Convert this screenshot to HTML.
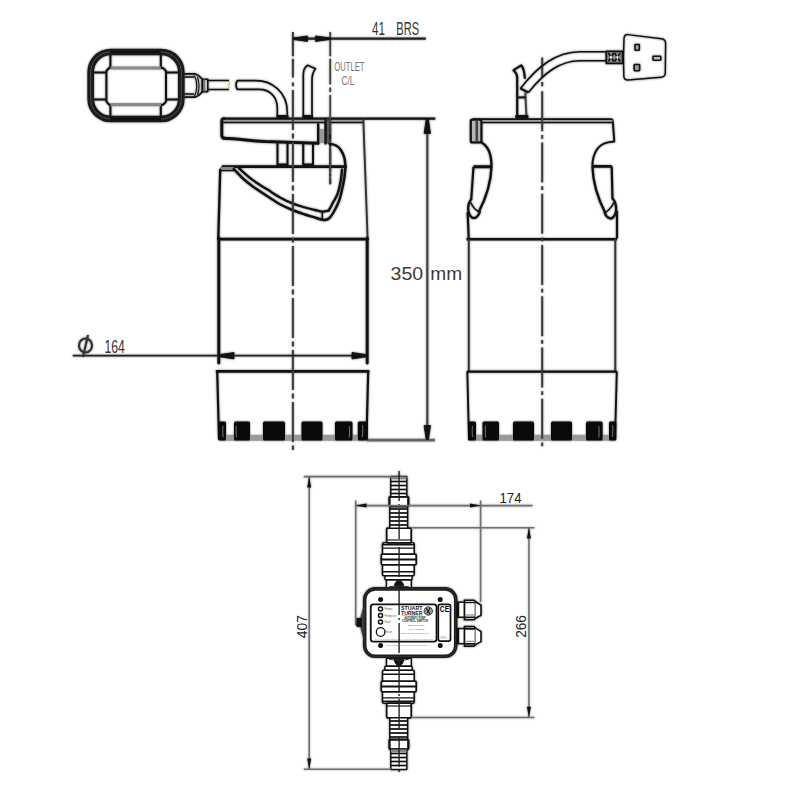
<!DOCTYPE html>
<html><head><meta charset="utf-8"><title>Pump drawing</title>
<style>
html,body{margin:0;padding:0;background:#fff;}
body{width:800px;height:800px;overflow:hidden;font-family:"Liberation Sans",sans-serif;}
svg{display:block;}
</style></head><body>
<svg width="800" height="800" viewBox="0 0 800 800">
<rect width="800" height="800" fill="#fff"/>
<g style="filter:blur(1px)" opacity="0.60">
<g  fill="none" stroke="#111" stroke-width="2.17" stroke-linejoin="round" stroke-linecap="round">
<rect x="222.5" y="119.4" width="141" height="2.4" fill="#9a9a9a" stroke="none"/>
<path d="M223.5 118.6 H434.5" stroke-width="2.10"/>
<path d="M222.5 122.4 H363" stroke-width="1.52"/>
<path d="M224 118.6 Q221.8 118.6 221.8 121 V135.5 Q221.8 138 224.5 138.2" stroke-width="2.90"/>
<path d="M223.5 138.2 C238 138.6 250 140.8 265 141.6 L318 143.2" stroke-width="3.04"/>
<rect x="318.2" y="129" width="7.2" height="14" fill="#9a9a9a" stroke="none"/>
<rect x="325.5" y="119.5" width="4.2" height="24" fill="#555" stroke="none"/>
<path d="M318.2 124.5 V143.5 M325.5 119 V143.5" stroke-width="2.32"/>
<path d="M363.3 119 L367.6 238" stroke="#333" stroke-width="1.89"/>
<path d="M277.5 143 V166" stroke-width="2.03"/>
<path d="M287.5 143 V166" stroke-width="2.03"/>
<path d="M303.2 143 V166" stroke-width="2.03"/>
<path d="M313.0 143 V166" stroke-width="2.03"/>
<rect x="277.5" y="163.5" width="10" height="3" fill="#111" stroke="none"/>
<rect x="303.2" y="163.5" width="9.8" height="3" fill="#111" stroke="none"/>
<path d="M223.2 166.6 H345" stroke-width="2.90"/>
<path d="M223.2 166.6 L220.2 170 L218.3 238" stroke-width="2.32"/>
<path d="M220.5 170.2 H234" stroke-width="2.32"/>
<path d="M222 168.5 H233" stroke="#888" stroke-width="2.90"/>
<path d="M329.50 143.50 C330.58 143.83 334.17 144.50 336.00 145.50 C337.83 146.50 339.12 147.50 340.50 149.50 C341.88 151.50 343.47 154.67 344.30 157.50 C345.13 160.33 345.30 165.00 345.50 166.50" stroke-width="2.46"/>
<path d="M233.75 169.00 C235.29 170.58 239.88 175.62 243.00 178.50 C246.12 181.38 248.42 183.28 252.50 186.25 C256.58 189.22 262.92 193.30 267.50 196.30 C272.08 199.30 275.75 201.93 280.00 204.25 C284.25 206.57 288.83 208.54 293.00 210.25 C297.17 211.96 301.33 213.29 305.00 214.50 C308.67 215.71 312.25 216.67 315.00 217.50 C317.75 218.33 319.83 219.08 321.50 219.50 C323.17 219.92 323.67 220.25 325.00 220.00 C326.33 219.75 328.00 219.42 329.50 218.00 C331.00 216.58 332.42 214.33 334.00 211.50 C335.58 208.67 337.75 204.25 339.00 201.00 C340.25 197.75 340.62 195.83 341.50 192.00 C342.38 188.17 343.63 182.25 344.30 178.00 C344.97 173.75 345.30 168.42 345.50 166.50" stroke-width="2.46"/>
<path d="M239.00 168.25 C241.25 170.19 247.75 176.34 252.50 179.90 C257.25 183.46 262.92 186.67 267.50 189.60 C272.08 192.53 275.75 195.15 280.00 197.50 C284.25 199.85 288.83 202.03 293.00 203.70 C297.17 205.37 301.33 206.45 305.00 207.50 C308.67 208.55 312.08 209.32 315.00 210.00 C317.92 210.68 320.23 211.50 322.50 211.60 C324.77 211.70 327.58 210.77 328.60 210.60" stroke-width="2.32"/>
<path d="M328.60 210.60 C329.00 209.92 330.27 207.85 331.00 206.50 C331.73 205.15 331.92 204.58 333.00 202.50 C334.08 200.42 336.25 197.42 337.50 194.00 C338.75 190.58 339.75 186.04 340.50 182.00 C341.25 177.96 341.75 171.79 342.00 169.75" stroke-width="2.32"/>
<path d="M322.3 211.8 L322.3 219" stroke-width="1.59"/>
<path d="M330.2 119 V183.5" stroke-width="2.03" stroke-dasharray="22 3 2 3"/>
<path d="M218.3 239.1 H367.6" stroke-width="2.90"/>
<path d="M218.8 238 V363 M367.2 238 V363" stroke-width="2.90"/>
<path d="M217 371.4 H368.3" stroke-width="2.61"/>
<path d="M217.2 371 L219 439 M368.2 371 L366.5 439" stroke-width="2.17"/>
</g>
<rect x="219" y="434.8" width="148" height="6" fill="#999"/>
<path d="M367 440 H435" stroke="#666" stroke-width="2.75"/>
<rect x="218.5" y="421.5" width="7.5" height="19" rx="1.5" fill="#0a0a0a"/>
<rect x="234.0" y="421.5" width="16.0" height="19" rx="1.5" fill="#0a0a0a"/>
<rect x="263.0" y="421.5" width="22.0" height="19" rx="1.5" fill="#0a0a0a"/>
<rect x="301.5" y="421.5" width="21.0" height="19" rx="1.5" fill="#0a0a0a"/>
<rect x="335.0" y="421.5" width="17.5" height="19" rx="1.5" fill="#0a0a0a"/>
<rect x="357.8" y="421.5" width="10.0" height="19" rx="1.5" fill="#0a0a0a"/>
<path d="M223 426 Q222.3 432 223.2 437 M236.3 426 Q235.8 432 236.5 437.5 M349.3 426 Q350 432 349.2 437.5 M362.5 425 Q363.2 431 362.3 437" fill="none" stroke="#666" stroke-width="1.16"/>
<path d="M292.90 31.90 V56.25 M292.90 58.75 V77.50 M292.90 82.50 V86.30 M292.90 90.00 V130.00 M292.90 133.50 V138.50 M292.90 142.00 V182.00 M292.90 185.50 V190.50 M292.90 194.00 V234.00 M292.90 237.50 V242.50 M292.90 246.00 V286.00 M292.90 289.50 V294.50 M292.90 298.00 V338.00 M292.90 341.50 V346.50 M292.90 350.00 V390.00 M292.90 393.50 V398.50 M292.90 402.00 V442.00 M292.90 445.50 V450.00" fill="none" stroke="#3a3a3a" stroke-width="1.96"/>
<path d="M330.20 31.90 V56.25 M330.20 58.75 V84.40 M330.20 87.50 V92.00 M330.20 95.00 V134.50 M330.20 139.00 V143.00 M330.20 147.00 V184.00" fill="none" stroke="#444" stroke-width="1.81"/>
<path d="M293 38.7 H425.8" fill="none" stroke="#222" stroke-width="2.32"/>
<path d="M293.20 39.50 L307.50 41.40 L307.50 36.00 L293.20 37.90 Z" fill="#111" stroke="#111" stroke-width="0.87" stroke-linejoin="round"/>
<path d="M330.20 37.90 L315.50 36.00 L315.50 41.40 L330.20 39.50 Z" fill="#111" stroke="#111" stroke-width="0.87" stroke-linejoin="round"/>
<g font-family="Liberation Sans, sans-serif" fill="#333">




</g>
<path d="M427.3 119 V440" fill="none" stroke="#444" stroke-width="2.17"/>
<path d="M426.20 119.40 L424.10 133.40 L430.50 133.40 L428.40 119.40 Z" fill="#111" stroke="#111" stroke-width="0.87" stroke-linejoin="round"/>
<path d="M428.40 439.60 L430.50 425.60 L424.10 425.60 L426.20 439.60 Z" fill="#111" stroke="#111" stroke-width="0.87" stroke-linejoin="round"/>


<path d="M72.7 355.7 H367" fill="none" stroke="#222" stroke-width="1.81"/>
<path d="M219.00 356.70 L234.00 358.90 L234.00 352.50 L219.00 354.70 Z" fill="#111" stroke="#111" stroke-width="0.87" stroke-linejoin="round"/>
<path d="M367.00 354.70 L352.00 352.50 L352.00 358.90 L367.00 356.70 Z" fill="#111" stroke="#111" stroke-width="0.87" stroke-linejoin="round"/>

<g fill="none" stroke="#333" stroke-width="2.17"><ellipse cx="85.5" cy="345.5" rx="6.5" ry="7"/><path d="M88 335 L83 357"/></g>
<g fill="none" stroke="#111" stroke-linejoin="round">
<rect x="90.7" y="52" width="90.6" height="67" rx="20" stroke="#1a1a1a" stroke-width="6.67"/>
<rect x="90.7" y="52" width="90.6" height="67" rx="20" stroke="#555" stroke-width="0.87"/>
<path d="M110 52 H161 M110 119 H161" stroke="#111" stroke-width="2.03"/>
<path d="M110.4 55 V68 M160.8 55 V68 M110.4 104.7 V116.5 M160.8 104.7 V116.5" stroke-width="2.03"/>
<path d="M94 72.6 H106.4 M94 99.6 H106.4 M165.5 72.6 H178 M165.5 99.6 H178" stroke-width="2.03"/>
<path d="M109 68 H163 L166 71 V101.7 L163 104.7 H109 L106.4 101.7 V71 Z" stroke-width="2.03"/>
<path d="M110.5 68 H161" stroke="#888" stroke-width="2.90"/>
<path d="M110.5 104.7 H161" stroke="#888" stroke-width="2.90"/>
<path d="M184.3 73.8 H195 C199 75 201 77.5 202.4 79.3 V91.7 C201 93.5 199 96 195 97.2 H184.3" stroke-width="1.67"/>
<path d="M184.3 77 H194 M184.3 94 H194" stroke-width="1.30"/>
<path d="M194.5 75.5 Q199 86 194.5 96.5 M197.5 77 Q200.5 86 197.5 95" stroke-width="1.16"/>
<rect x="202.4" y="79.2" width="5.4" height="12.4" stroke-width="1.59"/>
<path d="M204.5 79.5 V91.5" stroke="#777" stroke-width="1.45"/>
<path d="M207.8 80.6 H229 M207.8 89.4 H229" stroke-width="1.52"/>
<path d="M229.3 81.5 L229 88.5" stroke="#cc6" stroke-width="1.30"/>
<path d="M237 80.6 H256 C272 80.6 287.3 92 287.3 112 V117" stroke-width="1.59"/>
<path d="M237 89.4 H259 C270 89.4 277.3 97 277.3 108 V117" stroke-width="1.59"/>
<path d="M237 80.6 Q235 85 237 89.4" stroke-width="1.59"/>
<rect x="276.5" y="115" width="12" height="3.5" fill="#111" stroke="none"/>
<path d="M303.3 117 V75 C303.3 70 305 67 307.6 65.3 L315.5 68.8 C313 72 312 76 312 80 V117" stroke-width="1.67"/>
<rect x="302.5" y="115" width="10.5" height="3.5" fill="#111" stroke="none"/>
</g>
<g fill="none" stroke="#111" stroke-width="2.17" stroke-linejoin="round">
<path d="M473 119.2 H610.5 Q612.7 119.2 612.8 121.5 L614.3 141.5 L608 142.4 C598 144 592.4 154 592.4 166.4" stroke-width="1.96"/>
<rect x="472" y="120.2" width="140.5" height="2" fill="#aaa" stroke="none"/>
<path d="M472 122.5 H612.5" stroke-width="1.52"/>
<rect x="470.8" y="119.7" width="10.6" height="22.7" rx="1.5" fill="#b5b5b5" stroke-width="2.17"/>
<path d="M476.8 121 V141.5" stroke="#444" stroke-width="2.61"/>
<path d="M481.5 142.4 C488 146 491.5 154 491.5 166.4" stroke-width="2.32"/>
<path d="M473.5 166.7 H491.8 M592.4 166.4 H611.7" stroke-width="2.90"/>
<path d="M473.5 166.7 L471.2 200" stroke-width="2.17"/>
<path d="M491.5 166.4 C491 185 485 200 478.5 212.5" stroke-width="2.32"/>
<path d="M471.5 199 C467 204 467 214 472 217.5 C475 219.5 479 216 480 211" stroke-width="2.32"/>
<path d="M467.6 212 L468.7 238" stroke-width="2.17"/>
<path d="M611.7 166.4 L612.5 199.3" stroke-width="2.17"/>
<path d="M592.4 166.4 C593 185 599 201 605.8 214" stroke-width="2.32"/>
<path d="M612.5 198.5 C617 203 617.5 213 613 217.5 C610 220 605.5 217 604.5 212" stroke-width="2.32"/>
<path d="M617 210.7 V238.5" stroke-width="2.17"/>
<path d="M606.3 211.8 C609 210 612 206.5 613.8 202.5" stroke-width="1.59"/>
<path d="M478.5 211.5 C475.5 210 472.5 206.5 470.8 202.5" stroke-width="1.59"/>
<path d="M466.5 239.2 H617" stroke-width="2.46"/>
<path d="M468.8 238.6 V371.5 M615.3 238.6 V371.5" stroke="#333" stroke-width="1.89"/>
<path d="M467 371.6 H617" stroke-width="2.32"/>
<path d="M467.3 371.6 L469 440 M616.8 371.6 L615 440" stroke-width="1.89"/>
</g>
<rect x="469" y="434.8" width="146" height="6" fill="#999"/>
<rect x="468.0" y="421.5" width="8.0" height="19" rx="1.5" fill="#0a0a0a"/>
<rect x="482.5" y="421.5" width="16.5" height="19" rx="1.5" fill="#0a0a0a"/>
<rect x="513.0" y="421.5" width="21.0" height="19" rx="1.5" fill="#0a0a0a"/>
<rect x="551.0" y="421.5" width="21.0" height="19" rx="1.5" fill="#0a0a0a"/>
<rect x="586.0" y="421.5" width="16.6" height="19" rx="1.5" fill="#0a0a0a"/>
<rect x="609.0" y="421.5" width="7.4" height="19" rx="1.5" fill="#0a0a0a"/>
<path d="M472.5 426 Q471.8 432 472.7 437 M485.5 426 Q485 432 485.7 437.5 M598.8 426 Q599.5 432 598.7 437.5 M612.5 425 Q613.2 431 612.3 437" fill="none" stroke="#666" stroke-width="1.16"/>
<path d="M542.20 57.50 V77.50 M542.20 81.90 V86.25 M542.20 91.25 V131.25 M542.20 135.00 V138.75 M542.20 142.50 V182.50 M542.20 186.25 V190.00 M542.20 193.75 V233.75 M542.20 237.50 V241.25 M542.20 245.00 V285.00 M542.20 288.75 V292.50 M542.20 296.25 V336.25 M542.20 340.00 V343.75 M542.20 347.50 V387.50 M542.20 391.25 V395.00 M542.20 398.75 V438.75 M542.20 442.50 V446.25" fill="none" stroke="#3a3a3a" stroke-width="1.96"/>
<g fill="none" stroke="#111" stroke-width="2.03" stroke-linejoin="round">
<path d="M517.2 117 V77 C517 74 515.5 72 513.5 70.2 L521.3 65.3 C523.5 68 524.5 72 524.9 78.7" stroke-width="2.17"/>
<path d="M525.3 92.5 L526.5 117" stroke="#444" stroke-width="2.03"/>
<path d="M517.2 97.4 H526" stroke-width="2.03"/>
<rect x="515.2" y="115" width="13.3" height="3.5" rx="1" fill="#111" stroke="none"/>
<path d="M520.4 88.5 C538 66 556 52 580 51.8 H607" stroke-width="1.59"/>
<path d="M528.4 92.5 C545 72 560 61 580 60.8 H607" stroke-width="1.59"/>
<path d="M520.4 88.5 L528.4 92.5" stroke-width="2.17"/>
<rect x="606.3" y="51.3" width="16.3" height="12" fill="#8a8a8a" stroke-width="1.74"/>
<path d="M608.3 53 L613.8 61.5 M613.8 53 L608.3 61.5 M614.5 53 L620.3 61.5 M620.3 53 L614.5 61.5" fill="none" stroke="#111" stroke-width="1.59"/>
<path d="M609.6 57.3 L611 55.2 L612.4 57.3 L611 59.4 Z M615.9 57.3 L617.4 55.2 L618.9 57.3 L617.4 59.4 Z" fill="#eee" stroke="none"/>
<path d="M628 34.6 L661.5 38.8 Q665.6 39.4 665.6 43.5 L665.3 73 Q665.2 77 661 77.3 L628 80 Q624 80.2 623.8 76 Q623 57 624 38.5 Q624.3 34.2 628 34.6 Z" stroke-width="1.45"/>
<rect x="635" y="44.5" width="4.3" height="5.8" rx="0.6" fill="#aaa" stroke-width="1.59"/>
<rect x="634.2" y="64.5" width="5.4" height="6.2" rx="0.6" fill="#999" stroke-width="1.59"/>
<rect x="653" y="56.3" width="7.8" height="3.9" rx="0.6" fill="#bbb" stroke-width="1.59"/>
</g>
<g fill="none" stroke-linejoin="round">
<rect x="386.5" y="579.8" width="24.8" height="7.9" rx="0.8" fill="#fff" stroke="#111" stroke-width="1.49"/>
<rect x="384.9" y="575.6" width="27.2" height="4.2" rx="1.0" fill="#fff" stroke="#111" stroke-width="1.49"/>
<rect x="382.5" y="542.8" width="31.7" height="33.0" rx="1.5" fill="#fff" stroke="#111" stroke-width="1.61"/>
<path d="M382.5 571.7 H414.2" stroke="#111" stroke-width="1.38"/>
<path d="M382.5 548.1 H414.2" stroke="#111" stroke-width="1.38"/>
<path d="M382.5 544.7 H414.2" stroke="#111" stroke-width="1.38"/>
<rect x="381.3" y="554.2" width="34.9" height="10.6" rx="1.2" fill="#fff" stroke="#111" stroke-width="1.72"/>
<path d="M381.3 559.5 H416.2" stroke="#111" stroke-width="2.07"/>
<rect x="386.7" y="528.2" width="24.5" height="14.6" rx="1.0" fill="#fff" stroke="#111" stroke-width="1.72"/>
<path d="M386.7 540.0 H411.2" stroke="#111" stroke-width="1.15"/>
<rect x="389.8" y="506.4" width="17.8" height="21.8" rx="0.5" fill="#fff" stroke="#111" stroke-width="1.49"/>
<path d="M389.8 525.0 H407.6" stroke="#111" stroke-width="1.72"/>
<path d="M389.8 521.0 H407.6" stroke="#111" stroke-width="1.72"/>
<path d="M389.8 517.0 H407.6" stroke="#111" stroke-width="1.72"/>
<path d="M389.8 513.0 H407.6" stroke="#111" stroke-width="1.72"/>
<path d="M389.8 509.0 H407.6" stroke="#111" stroke-width="1.72"/>
<rect x="389.5" y="496.7" width="18.8" height="9.7" rx="1.5" fill="#fff" stroke="#111" stroke-width="2.30"/>
<rect x="390.8" y="476.5" width="16.0" height="20.2" rx="0.5" fill="#fff" stroke="#111" stroke-width="1.49"/>
<path d="M390.8 493.5 H406.8" stroke="#111" stroke-width="1.72"/>
<path d="M390.8 489.5 H406.8" stroke="#111" stroke-width="1.72"/>
<path d="M390.8 485.5 H406.8" stroke="#111" stroke-width="1.72"/>
<path d="M390.8 481.5 H406.8" stroke="#111" stroke-width="1.72"/>
<path d="M391.0 478.0 H406.5" stroke="#888" stroke-width="2.99"/>
<path d="M394.2 587.5 C394.2 583.5 396.2 580.4 399 580.4 C401.8 580.4 403.8 583.5 403.8 587.5 Z" fill="#111" stroke="#111" stroke-width="0.92"/>
<path d="M389 586.8 Q399 585.0 409 586.8" fill="none" stroke="#333" stroke-width="1.03"/>
<rect x="386.5" y="658.3" width="24.8" height="7.9" rx="0.8" fill="#fff" stroke="#111" stroke-width="1.49"/>
<rect x="384.9" y="666.2" width="27.2" height="4.2" rx="1.0" fill="#fff" stroke="#111" stroke-width="1.49"/>
<rect x="382.5" y="670.2" width="31.7" height="33.0" rx="1.5" fill="#fff" stroke="#111" stroke-width="1.61"/>
<path d="M382.5 674.3 H414.2" stroke="#111" stroke-width="1.38"/>
<path d="M382.5 697.9 H414.2" stroke="#111" stroke-width="1.38"/>
<path d="M382.5 701.3 H414.2" stroke="#111" stroke-width="1.38"/>
<rect x="381.3" y="681.2" width="34.9" height="10.6" rx="1.2" fill="#fff" stroke="#111" stroke-width="1.72"/>
<path d="M381.3 686.5 H416.2" stroke="#111" stroke-width="2.07"/>
<rect x="386.7" y="703.2" width="24.5" height="14.6" rx="1.0" fill="#fff" stroke="#111" stroke-width="1.72"/>
<path d="M386.7 706.0 H411.2" stroke="#111" stroke-width="1.15"/>
<rect x="389.8" y="717.8" width="17.8" height="21.8" rx="0.5" fill="#fff" stroke="#111" stroke-width="1.49"/>
<path d="M389.8 721.0 H407.6" stroke="#111" stroke-width="1.72"/>
<path d="M389.8 725.0 H407.6" stroke="#111" stroke-width="1.72"/>
<path d="M389.8 729.0 H407.6" stroke="#111" stroke-width="1.72"/>
<path d="M389.8 733.0 H407.6" stroke="#111" stroke-width="1.72"/>
<path d="M389.8 737.0 H407.6" stroke="#111" stroke-width="1.72"/>
<rect x="389.5" y="739.6" width="18.8" height="9.7" rx="1.5" fill="#fff" stroke="#111" stroke-width="2.30"/>
<rect x="390.8" y="749.3" width="16.0" height="20.2" rx="0.5" fill="#fff" stroke="#111" stroke-width="1.49"/>
<path d="M391.0 750.8 H406.5" stroke="#888" stroke-width="2.76"/>
<path d="M390.8 753.5 H406.8" stroke="#111" stroke-width="1.72"/>
<path d="M390.8 757.5 H406.8" stroke="#111" stroke-width="1.72"/>
<path d="M390.8 761.5 H406.8" stroke="#111" stroke-width="1.72"/>
<path d="M390.8 765.5 H406.8" stroke="#111" stroke-width="1.72"/>
<path d="M394.2 658.5 C394.2 662.5 396.2 665.6 399 665.6 C401.8 665.6 403.8 662.5 403.8 658.5 Z" fill="#111" stroke="#111" stroke-width="0.92"/>
<path d="M389 659.2 Q399 661.0 409 659.2" fill="none" stroke="#333" stroke-width="1.03"/>
</g>
<g fill="none" stroke="#111" stroke-linejoin="round">
<rect x="364.7" y="588.9" width="91" height="67.4" rx="10.5" fill="#fff" stroke="#1c1c1c" stroke-width="3.56"/>
<rect x="364.7" y="588.9" width="91" height="67.4" rx="10.5" stroke="#444" stroke-width="0.57"/>
<rect x="370.75" y="604.4" width="65.8" height="37.2" rx="2.6" stroke-width="1.84"/>
<rect x="438.3" y="604.3" width="12.2" height="36.8" rx="2" stroke-width="1.72"/>
<circle cx="380.5" cy="609.0" r="2.05" stroke-width="1.44"/>
<circle cx="380.5" cy="615.5" r="2.05" stroke-width="1.44"/>
<circle cx="380.5" cy="622.0" r="2.05" stroke-width="1.44"/>
<circle cx="380.6" cy="632" r="4.3" stroke-width="1.26"/>
</g>
<circle cx="380.6" cy="599.6" r="2.5" fill="#111"/>
<circle cx="380.6" cy="645.6" r="2.5" fill="#111"/>
<circle cx="440.2" cy="599.6" r="2.5" fill="#111"/>
<circle cx="440.2" cy="645.6" r="2.5" fill="#111"/>
<path d="M363.5 606 L360.6 616 L360.6 629 L363.5 640 Z" fill="#444"/>
<path d="M362 617.7 L357 617.9 Q355.6 618 355.6 619.5 L355.6 624.5 Q355.8 626.2 357.5 626.9 L362 627.2 Z" fill="#111"/>
<g font-family="Liberation Sans, sans-serif" fill="#555">
















</g>
<circle cx="428.3" cy="611" r="4.2" fill="#999" stroke="#333" stroke-width="0.92"/>
<path d="M426 608 L430 614 M427 613 L430 608" stroke="#111" stroke-width="1.03"/>
<rect x="457.5" y="602.2" width="7" height="15" fill="#fff" stroke="#111" stroke-width="1.49"/>
<path d="M458 602.2 V617.2" stroke="#111" stroke-width="2.53"/>
<path d="M464.5 600.2 H474 L475.5 601.7 V618.2 L474 619.7 H464.5 Z" fill="#fff" stroke="#111" stroke-width="1.61"/>
<path d="M465 602.5 H475 M465 617.4 H475" stroke="#111" stroke-width="1.72"/>
<path d="M465.5 615.0 H475" stroke="#999" stroke-width="1.38"/>
<path d="M475.5 601.7 L481 605.2 V615.2 L475.5 618.2" fill="#fff" stroke="#111" stroke-width="1.61"/>
<rect x="457.5" y="628.6" width="7" height="15" fill="#fff" stroke="#111" stroke-width="1.49"/>
<path d="M458 628.6 V643.6" stroke="#111" stroke-width="2.53"/>
<path d="M464.5 626.6 H474 L475.5 628.1 V644.6 L474 646.1 H464.5 Z" fill="#fff" stroke="#111" stroke-width="1.61"/>
<path d="M465 628.9 H475 M465 643.8 H475" stroke="#111" stroke-width="1.72"/>
<path d="M465.5 641.4 H475" stroke="#999" stroke-width="1.38"/>
<path d="M475.5 628.1 L481 631.6 V641.6 L475.5 644.6" fill="#fff" stroke="#111" stroke-width="1.61"/>
<path d="M399.1 471 V775" fill="none" stroke="#222" stroke-width="1.38" stroke-dasharray="30 3 2 3"/>
<g fill="none" stroke="#707070" stroke-width="1.55">
<path d="M303.7 476.6 H391 M303.7 769.3 H391"/>
<path d="M309.2 476.6 V769.3"/>
<path d="M355.7 500.5 V624.5 M480.6 500.5 V602"/>
<path d="M355.5 505.6 H532.5"/>
<path d="M411 527.8 H534.5 M411 717.5 H534.5"/>
<path d="M528.9 527.8 V717.5"/>
</g>
<g fill="#111">
<path d="M309.2 476.6 L307.2 487.5 L311.2 487.5 Z M309.2 769.3 L307.2 758.5 L311.2 758.5 Z"/>
<path d="M355.5 505.6 L366.5 503.6 L366.5 507.6 Z M480.6 505.6 L470 503.6 L470 507.6 Z"/>
<path d="M528.9 527.8 L526.9 538.5 L530.9 538.5 Z M528.9 717.5 L526.9 706.8 L530.9 706.8 Z"/>
</g>
<g font-family="Liberation Sans, sans-serif" font-size="14.3" fill="#222">



</g>
</g>
<g id="art">
<g id="leftpump" fill="none" stroke="#111" stroke-width="2.17" stroke-linejoin="round" stroke-linecap="round">
<rect x="222.5" y="119.4" width="141" height="2.4" fill="#9a9a9a" stroke="none"/>
<path d="M223.5 118.6 H434.5" stroke-width="2.10"/>
<path d="M222.5 122.4 H363" stroke-width="1.52"/>
<path d="M224 118.6 Q221.8 118.6 221.8 121 V135.5 Q221.8 138 224.5 138.2" stroke-width="2.90"/>
<path d="M223.5 138.2 C238 138.6 250 140.8 265 141.6 L318 143.2" stroke-width="3.04"/>
<rect x="318.2" y="129" width="7.2" height="14" fill="#9a9a9a" stroke="none"/>
<rect x="325.5" y="119.5" width="4.2" height="24" fill="#555" stroke="none"/>
<path d="M318.2 124.5 V143.5 M325.5 119 V143.5" stroke-width="2.32"/>
<path d="M363.3 119 L367.6 238" stroke="#333" stroke-width="1.89"/>
<path d="M277.5 143 V166" stroke-width="2.03"/>
<path d="M287.5 143 V166" stroke-width="2.03"/>
<path d="M303.2 143 V166" stroke-width="2.03"/>
<path d="M313.0 143 V166" stroke-width="2.03"/>
<rect x="277.5" y="163.5" width="10" height="3" fill="#111" stroke="none"/>
<rect x="303.2" y="163.5" width="9.8" height="3" fill="#111" stroke="none"/>
<path d="M223.2 166.6 H345" stroke-width="2.90"/>
<path d="M223.2 166.6 L220.2 170 L218.3 238" stroke-width="2.32"/>
<path d="M220.5 170.2 H234" stroke-width="2.32"/>
<path d="M222 168.5 H233" stroke="#888" stroke-width="2.90"/>
<path d="M329.50 143.50 C330.58 143.83 334.17 144.50 336.00 145.50 C337.83 146.50 339.12 147.50 340.50 149.50 C341.88 151.50 343.47 154.67 344.30 157.50 C345.13 160.33 345.30 165.00 345.50 166.50" stroke-width="2.46"/>
<path d="M233.75 169.00 C235.29 170.58 239.88 175.62 243.00 178.50 C246.12 181.38 248.42 183.28 252.50 186.25 C256.58 189.22 262.92 193.30 267.50 196.30 C272.08 199.30 275.75 201.93 280.00 204.25 C284.25 206.57 288.83 208.54 293.00 210.25 C297.17 211.96 301.33 213.29 305.00 214.50 C308.67 215.71 312.25 216.67 315.00 217.50 C317.75 218.33 319.83 219.08 321.50 219.50 C323.17 219.92 323.67 220.25 325.00 220.00 C326.33 219.75 328.00 219.42 329.50 218.00 C331.00 216.58 332.42 214.33 334.00 211.50 C335.58 208.67 337.75 204.25 339.00 201.00 C340.25 197.75 340.62 195.83 341.50 192.00 C342.38 188.17 343.63 182.25 344.30 178.00 C344.97 173.75 345.30 168.42 345.50 166.50" stroke-width="2.46"/>
<path d="M239.00 168.25 C241.25 170.19 247.75 176.34 252.50 179.90 C257.25 183.46 262.92 186.67 267.50 189.60 C272.08 192.53 275.75 195.15 280.00 197.50 C284.25 199.85 288.83 202.03 293.00 203.70 C297.17 205.37 301.33 206.45 305.00 207.50 C308.67 208.55 312.08 209.32 315.00 210.00 C317.92 210.68 320.23 211.50 322.50 211.60 C324.77 211.70 327.58 210.77 328.60 210.60" stroke-width="2.32"/>
<path d="M328.60 210.60 C329.00 209.92 330.27 207.85 331.00 206.50 C331.73 205.15 331.92 204.58 333.00 202.50 C334.08 200.42 336.25 197.42 337.50 194.00 C338.75 190.58 339.75 186.04 340.50 182.00 C341.25 177.96 341.75 171.79 342.00 169.75" stroke-width="2.32"/>
<path d="M322.3 211.8 L322.3 219" stroke-width="1.59"/>
<path d="M330.2 119 V183.5" stroke-width="2.03" stroke-dasharray="22 3 2 3"/>
<path d="M218.3 239.1 H367.6" stroke-width="2.90"/>
<path d="M218.8 238 V363 M367.2 238 V363" stroke-width="2.90"/>
<path d="M217 371.4 H368.3" stroke-width="2.61"/>
<path d="M217.2 371 L219 439 M368.2 371 L366.5 439" stroke-width="2.17"/>
</g>
<rect x="219" y="434.8" width="148" height="6" fill="#999"/>
<path d="M367 440 H435" stroke="#666" stroke-width="2.75"/>
<rect x="218.5" y="421.5" width="7.5" height="19" rx="1.5" fill="#0a0a0a"/>
<rect x="234.0" y="421.5" width="16.0" height="19" rx="1.5" fill="#0a0a0a"/>
<rect x="263.0" y="421.5" width="22.0" height="19" rx="1.5" fill="#0a0a0a"/>
<rect x="301.5" y="421.5" width="21.0" height="19" rx="1.5" fill="#0a0a0a"/>
<rect x="335.0" y="421.5" width="17.5" height="19" rx="1.5" fill="#0a0a0a"/>
<rect x="357.8" y="421.5" width="10.0" height="19" rx="1.5" fill="#0a0a0a"/>
<path d="M223 426 Q222.3 432 223.2 437 M236.3 426 Q235.8 432 236.5 437.5 M349.3 426 Q350 432 349.2 437.5 M362.5 425 Q363.2 431 362.3 437" fill="none" stroke="#666" stroke-width="1.16"/>
<path d="M292.90 31.90 V56.25 M292.90 58.75 V77.50 M292.90 82.50 V86.30 M292.90 90.00 V130.00 M292.90 133.50 V138.50 M292.90 142.00 V182.00 M292.90 185.50 V190.50 M292.90 194.00 V234.00 M292.90 237.50 V242.50 M292.90 246.00 V286.00 M292.90 289.50 V294.50 M292.90 298.00 V338.00 M292.90 341.50 V346.50 M292.90 350.00 V390.00 M292.90 393.50 V398.50 M292.90 402.00 V442.00 M292.90 445.50 V450.00" fill="none" stroke="#3a3a3a" stroke-width="1.96"/>
<path d="M330.20 31.90 V56.25 M330.20 58.75 V84.40 M330.20 87.50 V92.00 M330.20 95.00 V134.50 M330.20 139.00 V143.00 M330.20 147.00 V184.00" fill="none" stroke="#444" stroke-width="1.81"/>
<path d="M293 38.7 H425.8" fill="none" stroke="#222" stroke-width="2.32"/>
<path d="M293.20 39.50 L307.50 41.40 L307.50 36.00 L293.20 37.90 Z" fill="#111" stroke="#111" stroke-width="0.87" stroke-linejoin="round"/>
<path d="M330.20 37.90 L315.50 36.00 L315.50 41.40 L330.20 39.50 Z" fill="#111" stroke="#111" stroke-width="0.87" stroke-linejoin="round"/>
<g font-family="Liberation Sans, sans-serif" fill="#333">
<text x="372" y="34.9" font-size="19.2" textLength="12.9" lengthAdjust="spacingAndGlyphs">41</text>
<text x="396.3" y="34.9" font-size="19.2" textLength="22.8" lengthAdjust="spacingAndGlyphs">BRS</text>
<text x="334.2" y="71" font-size="12.4" fill="#777" textLength="30.3" lengthAdjust="spacingAndGlyphs">OUTLET</text>
<text x="341.5" y="85" font-size="12.4" fill="#777" textLength="13" lengthAdjust="spacingAndGlyphs">C/L</text>
</g>
<path d="M427.3 119 V440" fill="none" stroke="#444" stroke-width="2.17"/>
<path d="M426.20 119.40 L424.10 133.40 L430.50 133.40 L428.40 119.40 Z" fill="#111" stroke="#111" stroke-width="0.87" stroke-linejoin="round"/>
<path d="M428.40 439.60 L430.50 425.60 L424.10 425.60 L426.20 439.60 Z" fill="#111" stroke="#111" stroke-width="0.87" stroke-linejoin="round"/>
<text x="390.6" y="280.2" font-family="Liberation Sans, sans-serif" font-size="18.4" fill="#3a3a3a" textLength="32.6" lengthAdjust="spacingAndGlyphs">350</text>
<text x="430.3" y="280.2" font-family="Liberation Sans, sans-serif" font-size="18.4" fill="#3a3a3a" textLength="31.8" lengthAdjust="spacingAndGlyphs">mm</text>
<path d="M72.7 355.7 H367" fill="none" stroke="#222" stroke-width="1.81"/>
<path d="M219.00 356.70 L234.00 358.90 L234.00 352.50 L219.00 354.70 Z" fill="#111" stroke="#111" stroke-width="0.87" stroke-linejoin="round"/>
<path d="M367.00 354.70 L352.00 352.50 L352.00 358.90 L367.00 356.70 Z" fill="#111" stroke="#111" stroke-width="0.87" stroke-linejoin="round"/>
<text x="104.5" y="353" font-family="Liberation Sans, sans-serif" font-size="19.2" fill="#333" textLength="20.3" lengthAdjust="spacingAndGlyphs">164</text>
<g fill="none" stroke="#333" stroke-width="2.17"><ellipse cx="85.5" cy="345.5" rx="6.5" ry="7"/><path d="M88 335 L83 357"/></g>
<g fill="none" stroke="#111" stroke-linejoin="round">
<rect x="90.7" y="52" width="90.6" height="67" rx="20" stroke="#1a1a1a" stroke-width="6.67"/>
<rect x="90.7" y="52" width="90.6" height="67" rx="20" stroke="#555" stroke-width="0.87"/>
<path d="M110 52 H161 M110 119 H161" stroke="#111" stroke-width="2.03"/>
<path d="M110.4 55 V68 M160.8 55 V68 M110.4 104.7 V116.5 M160.8 104.7 V116.5" stroke-width="2.03"/>
<path d="M94 72.6 H106.4 M94 99.6 H106.4 M165.5 72.6 H178 M165.5 99.6 H178" stroke-width="2.03"/>
<path d="M109 68 H163 L166 71 V101.7 L163 104.7 H109 L106.4 101.7 V71 Z" stroke-width="2.03"/>
<path d="M110.5 68 H161" stroke="#888" stroke-width="2.90"/>
<path d="M110.5 104.7 H161" stroke="#888" stroke-width="2.90"/>
<path d="M184.3 73.8 H195 C199 75 201 77.5 202.4 79.3 V91.7 C201 93.5 199 96 195 97.2 H184.3" stroke-width="1.67"/>
<path d="M184.3 77 H194 M184.3 94 H194" stroke-width="1.30"/>
<path d="M194.5 75.5 Q199 86 194.5 96.5 M197.5 77 Q200.5 86 197.5 95" stroke-width="1.16"/>
<rect x="202.4" y="79.2" width="5.4" height="12.4" stroke-width="1.59"/>
<path d="M204.5 79.5 V91.5" stroke="#777" stroke-width="1.45"/>
<path d="M207.8 80.6 H229 M207.8 89.4 H229" stroke-width="1.52"/>
<path d="M229.3 81.5 L229 88.5" stroke="#cc6" stroke-width="1.30"/>
<path d="M237 80.6 H256 C272 80.6 287.3 92 287.3 112 V117" stroke-width="1.59"/>
<path d="M237 89.4 H259 C270 89.4 277.3 97 277.3 108 V117" stroke-width="1.59"/>
<path d="M237 80.6 Q235 85 237 89.4" stroke-width="1.59"/>
<rect x="276.5" y="115" width="12" height="3.5" fill="#111" stroke="none"/>
<path d="M303.3 117 V75 C303.3 70 305 67 307.6 65.3 L315.5 68.8 C313 72 312 76 312 80 V117" stroke-width="1.67"/>
<rect x="302.5" y="115" width="10.5" height="3.5" fill="#111" stroke="none"/>
</g>
<g fill="none" stroke="#111" stroke-width="2.17" stroke-linejoin="round">
<path d="M473 119.2 H610.5 Q612.7 119.2 612.8 121.5 L614.3 141.5 L608 142.4 C598 144 592.4 154 592.4 166.4" stroke-width="1.96"/>
<rect x="472" y="120.2" width="140.5" height="2" fill="#aaa" stroke="none"/>
<path d="M472 122.5 H612.5" stroke-width="1.52"/>
<rect x="470.8" y="119.7" width="10.6" height="22.7" rx="1.5" fill="#b5b5b5" stroke-width="2.17"/>
<path d="M476.8 121 V141.5" stroke="#444" stroke-width="2.61"/>
<path d="M481.5 142.4 C488 146 491.5 154 491.5 166.4" stroke-width="2.32"/>
<path d="M473.5 166.7 H491.8 M592.4 166.4 H611.7" stroke-width="2.90"/>
<path d="M473.5 166.7 L471.2 200" stroke-width="2.17"/>
<path d="M491.5 166.4 C491 185 485 200 478.5 212.5" stroke-width="2.32"/>
<path d="M471.5 199 C467 204 467 214 472 217.5 C475 219.5 479 216 480 211" stroke-width="2.32"/>
<path d="M467.6 212 L468.7 238" stroke-width="2.17"/>
<path d="M611.7 166.4 L612.5 199.3" stroke-width="2.17"/>
<path d="M592.4 166.4 C593 185 599 201 605.8 214" stroke-width="2.32"/>
<path d="M612.5 198.5 C617 203 617.5 213 613 217.5 C610 220 605.5 217 604.5 212" stroke-width="2.32"/>
<path d="M617 210.7 V238.5" stroke-width="2.17"/>
<path d="M606.3 211.8 C609 210 612 206.5 613.8 202.5" stroke-width="1.59"/>
<path d="M478.5 211.5 C475.5 210 472.5 206.5 470.8 202.5" stroke-width="1.59"/>
<path d="M466.5 239.2 H617" stroke-width="2.46"/>
<path d="M468.8 238.6 V371.5 M615.3 238.6 V371.5" stroke="#333" stroke-width="1.89"/>
<path d="M467 371.6 H617" stroke-width="2.32"/>
<path d="M467.3 371.6 L469 440 M616.8 371.6 L615 440" stroke-width="1.89"/>
</g>
<rect x="469" y="434.8" width="146" height="6" fill="#999"/>
<rect x="468.0" y="421.5" width="8.0" height="19" rx="1.5" fill="#0a0a0a"/>
<rect x="482.5" y="421.5" width="16.5" height="19" rx="1.5" fill="#0a0a0a"/>
<rect x="513.0" y="421.5" width="21.0" height="19" rx="1.5" fill="#0a0a0a"/>
<rect x="551.0" y="421.5" width="21.0" height="19" rx="1.5" fill="#0a0a0a"/>
<rect x="586.0" y="421.5" width="16.6" height="19" rx="1.5" fill="#0a0a0a"/>
<rect x="609.0" y="421.5" width="7.4" height="19" rx="1.5" fill="#0a0a0a"/>
<path d="M472.5 426 Q471.8 432 472.7 437 M485.5 426 Q485 432 485.7 437.5 M598.8 426 Q599.5 432 598.7 437.5 M612.5 425 Q613.2 431 612.3 437" fill="none" stroke="#666" stroke-width="1.16"/>
<path d="M542.20 57.50 V77.50 M542.20 81.90 V86.25 M542.20 91.25 V131.25 M542.20 135.00 V138.75 M542.20 142.50 V182.50 M542.20 186.25 V190.00 M542.20 193.75 V233.75 M542.20 237.50 V241.25 M542.20 245.00 V285.00 M542.20 288.75 V292.50 M542.20 296.25 V336.25 M542.20 340.00 V343.75 M542.20 347.50 V387.50 M542.20 391.25 V395.00 M542.20 398.75 V438.75 M542.20 442.50 V446.25" fill="none" stroke="#3a3a3a" stroke-width="1.96"/>
<g fill="none" stroke="#111" stroke-width="2.03" stroke-linejoin="round">
<path d="M517.2 117 V77 C517 74 515.5 72 513.5 70.2 L521.3 65.3 C523.5 68 524.5 72 524.9 78.7" stroke-width="2.17"/>
<path d="M525.3 92.5 L526.5 117" stroke="#444" stroke-width="2.03"/>
<path d="M517.2 97.4 H526" stroke-width="2.03"/>
<rect x="515.2" y="115" width="13.3" height="3.5" rx="1" fill="#111" stroke="none"/>
<path d="M520.4 88.5 C538 66 556 52 580 51.8 H607" stroke-width="1.59"/>
<path d="M528.4 92.5 C545 72 560 61 580 60.8 H607" stroke-width="1.59"/>
<path d="M520.4 88.5 L528.4 92.5" stroke-width="2.17"/>
<rect x="606.3" y="51.3" width="16.3" height="12" fill="#8a8a8a" stroke-width="1.74"/>
<path d="M608.3 53 L613.8 61.5 M613.8 53 L608.3 61.5 M614.5 53 L620.3 61.5 M620.3 53 L614.5 61.5" fill="none" stroke="#111" stroke-width="1.59"/>
<path d="M609.6 57.3 L611 55.2 L612.4 57.3 L611 59.4 Z M615.9 57.3 L617.4 55.2 L618.9 57.3 L617.4 59.4 Z" fill="#eee" stroke="none"/>
<path d="M628 34.6 L661.5 38.8 Q665.6 39.4 665.6 43.5 L665.3 73 Q665.2 77 661 77.3 L628 80 Q624 80.2 623.8 76 Q623 57 624 38.5 Q624.3 34.2 628 34.6 Z" stroke-width="1.45"/>
<rect x="635" y="44.5" width="4.3" height="5.8" rx="0.6" fill="#aaa" stroke-width="1.59"/>
<rect x="634.2" y="64.5" width="5.4" height="6.2" rx="0.6" fill="#999" stroke-width="1.59"/>
<rect x="653" y="56.3" width="7.8" height="3.9" rx="0.6" fill="#bbb" stroke-width="1.59"/>
</g>
<g fill="none" stroke-linejoin="round">
<rect x="386.5" y="579.8" width="24.8" height="7.9" rx="0.8" fill="#fff" stroke="#111" stroke-width="1.49"/>
<rect x="384.9" y="575.6" width="27.2" height="4.2" rx="1.0" fill="#fff" stroke="#111" stroke-width="1.49"/>
<rect x="382.5" y="542.8" width="31.7" height="33.0" rx="1.5" fill="#fff" stroke="#111" stroke-width="1.61"/>
<path d="M382.5 571.7 H414.2" stroke="#111" stroke-width="1.38"/>
<path d="M382.5 548.1 H414.2" stroke="#111" stroke-width="1.38"/>
<path d="M382.5 544.7 H414.2" stroke="#111" stroke-width="1.38"/>
<rect x="381.3" y="554.2" width="34.9" height="10.6" rx="1.2" fill="#fff" stroke="#111" stroke-width="1.72"/>
<path d="M381.3 559.5 H416.2" stroke="#111" stroke-width="2.07"/>
<rect x="386.7" y="528.2" width="24.5" height="14.6" rx="1.0" fill="#fff" stroke="#111" stroke-width="1.72"/>
<path d="M386.7 540.0 H411.2" stroke="#111" stroke-width="1.15"/>
<rect x="389.8" y="506.4" width="17.8" height="21.8" rx="0.5" fill="#fff" stroke="#111" stroke-width="1.49"/>
<path d="M389.8 525.0 H407.6" stroke="#111" stroke-width="1.72"/>
<path d="M389.8 521.0 H407.6" stroke="#111" stroke-width="1.72"/>
<path d="M389.8 517.0 H407.6" stroke="#111" stroke-width="1.72"/>
<path d="M389.8 513.0 H407.6" stroke="#111" stroke-width="1.72"/>
<path d="M389.8 509.0 H407.6" stroke="#111" stroke-width="1.72"/>
<rect x="389.5" y="496.7" width="18.8" height="9.7" rx="1.5" fill="#fff" stroke="#111" stroke-width="2.30"/>
<rect x="390.8" y="476.5" width="16.0" height="20.2" rx="0.5" fill="#fff" stroke="#111" stroke-width="1.49"/>
<path d="M390.8 493.5 H406.8" stroke="#111" stroke-width="1.72"/>
<path d="M390.8 489.5 H406.8" stroke="#111" stroke-width="1.72"/>
<path d="M390.8 485.5 H406.8" stroke="#111" stroke-width="1.72"/>
<path d="M390.8 481.5 H406.8" stroke="#111" stroke-width="1.72"/>
<path d="M391.0 478.0 H406.5" stroke="#888" stroke-width="2.99"/>
<path d="M394.2 587.5 C394.2 583.5 396.2 580.4 399 580.4 C401.8 580.4 403.8 583.5 403.8 587.5 Z" fill="#111" stroke="#111" stroke-width="0.92"/>
<path d="M389 586.8 Q399 585.0 409 586.8" fill="none" stroke="#333" stroke-width="1.03"/>
<rect x="386.5" y="658.3" width="24.8" height="7.9" rx="0.8" fill="#fff" stroke="#111" stroke-width="1.49"/>
<rect x="384.9" y="666.2" width="27.2" height="4.2" rx="1.0" fill="#fff" stroke="#111" stroke-width="1.49"/>
<rect x="382.5" y="670.2" width="31.7" height="33.0" rx="1.5" fill="#fff" stroke="#111" stroke-width="1.61"/>
<path d="M382.5 674.3 H414.2" stroke="#111" stroke-width="1.38"/>
<path d="M382.5 697.9 H414.2" stroke="#111" stroke-width="1.38"/>
<path d="M382.5 701.3 H414.2" stroke="#111" stroke-width="1.38"/>
<rect x="381.3" y="681.2" width="34.9" height="10.6" rx="1.2" fill="#fff" stroke="#111" stroke-width="1.72"/>
<path d="M381.3 686.5 H416.2" stroke="#111" stroke-width="2.07"/>
<rect x="386.7" y="703.2" width="24.5" height="14.6" rx="1.0" fill="#fff" stroke="#111" stroke-width="1.72"/>
<path d="M386.7 706.0 H411.2" stroke="#111" stroke-width="1.15"/>
<rect x="389.8" y="717.8" width="17.8" height="21.8" rx="0.5" fill="#fff" stroke="#111" stroke-width="1.49"/>
<path d="M389.8 721.0 H407.6" stroke="#111" stroke-width="1.72"/>
<path d="M389.8 725.0 H407.6" stroke="#111" stroke-width="1.72"/>
<path d="M389.8 729.0 H407.6" stroke="#111" stroke-width="1.72"/>
<path d="M389.8 733.0 H407.6" stroke="#111" stroke-width="1.72"/>
<path d="M389.8 737.0 H407.6" stroke="#111" stroke-width="1.72"/>
<rect x="389.5" y="739.6" width="18.8" height="9.7" rx="1.5" fill="#fff" stroke="#111" stroke-width="2.30"/>
<rect x="390.8" y="749.3" width="16.0" height="20.2" rx="0.5" fill="#fff" stroke="#111" stroke-width="1.49"/>
<path d="M391.0 750.8 H406.5" stroke="#888" stroke-width="2.76"/>
<path d="M390.8 753.5 H406.8" stroke="#111" stroke-width="1.72"/>
<path d="M390.8 757.5 H406.8" stroke="#111" stroke-width="1.72"/>
<path d="M390.8 761.5 H406.8" stroke="#111" stroke-width="1.72"/>
<path d="M390.8 765.5 H406.8" stroke="#111" stroke-width="1.72"/>
<path d="M394.2 658.5 C394.2 662.5 396.2 665.6 399 665.6 C401.8 665.6 403.8 662.5 403.8 658.5 Z" fill="#111" stroke="#111" stroke-width="0.92"/>
<path d="M389 659.2 Q399 661.0 409 659.2" fill="none" stroke="#333" stroke-width="1.03"/>
</g>
<g fill="none" stroke="#111" stroke-linejoin="round">
<rect x="364.7" y="588.9" width="91" height="67.4" rx="10.5" fill="#fff" stroke="#1c1c1c" stroke-width="3.56"/>
<rect x="364.7" y="588.9" width="91" height="67.4" rx="10.5" stroke="#444" stroke-width="0.57"/>
<rect x="370.75" y="604.4" width="65.8" height="37.2" rx="2.6" stroke-width="1.84"/>
<rect x="438.3" y="604.3" width="12.2" height="36.8" rx="2" stroke-width="1.72"/>
<circle cx="380.5" cy="609.0" r="2.05" stroke-width="1.44"/>
<circle cx="380.5" cy="615.5" r="2.05" stroke-width="1.44"/>
<circle cx="380.5" cy="622.0" r="2.05" stroke-width="1.44"/>
<circle cx="380.6" cy="632" r="4.3" stroke-width="1.26"/>
</g>
<circle cx="380.6" cy="599.6" r="2.5" fill="#111"/>
<circle cx="380.6" cy="645.6" r="2.5" fill="#111"/>
<circle cx="440.2" cy="599.6" r="2.5" fill="#111"/>
<circle cx="440.2" cy="645.6" r="2.5" fill="#111"/>
<path d="M363.5 606 L360.6 616 L360.6 629 L363.5 640 Z" fill="#444"/>
<path d="M362 617.7 L357 617.9 Q355.6 618 355.6 619.5 L355.6 624.5 Q355.8 626.2 357.5 626.9 L362 627.2 Z" fill="#111"/>
<g font-family="Liberation Sans, sans-serif" fill="#555">
<text x="384.5" y="610.0" font-size="2.8">Power</text>
<text x="384.5" y="616.5" font-size="2.8">Pump on</text>
<text x="384.5" y="623.0" font-size="2.8">Fault</text>
<text x="384.5" y="633.0" font-size="2.8">Reset</text>
<text x="401" y="610.2" font-size="5" font-weight="bold" fill="#222" textLength="21.5" lengthAdjust="spacingAndGlyphs">STUART</text>
<text x="401" y="614.5" font-size="5" font-weight="bold" fill="#222" textLength="21.5" lengthAdjust="spacingAndGlyphs">TURNER</text>
<text x="402" y="616.4" font-size="1.8" textLength="20" lengthAdjust="spacingAndGlyphs">pumps - pressure control</text>
<text x="404.5" y="619.2" font-size="2.6" font-weight="bold" fill="#222" textLength="21" lengthAdjust="spacingAndGlyphs">AUTOMATIC PUMP</text>
<text x="402" y="621.8" font-size="2.6" font-weight="bold" fill="#222" textLength="26" lengthAdjust="spacingAndGlyphs">CONTROL SWITCH</text>
<text x="408" y="626" font-size="2.4" fill="#333" textLength="17" lengthAdjust="spacingAndGlyphs">230V 50Hz 10A</text>
<text x="409" y="629.5" font-size="2.4" fill="#333" textLength="15" lengthAdjust="spacingAndGlyphs">MAX 10 BAR</text>
<text x="401" y="634" font-size="2.2" textLength="28" lengthAdjust="spacingAndGlyphs">Made in EU  -  www.stuart-turner.co.uk</text>
<text x="375" y="639.5" font-size="2.2" fill="#a86" textLength="58" lengthAdjust="spacingAndGlyphs">Do not operate without water  -  refer to installation instructions</text>
<text x="386" y="645.8" font-size="2.4" fill="#a86" textLength="42" lengthAdjust="spacingAndGlyphs">DISCONNECT POWER BEFORE OPENING</text>
<text x="439.8" y="611.8" font-size="8.2" font-weight="bold" fill="#000" textLength="9.4" lengthAdjust="spacingAndGlyphs">CE</text>
<text x="440.5" y="639" font-size="3" fill="#a86">IP65</text>
</g>
<circle cx="428.3" cy="611" r="4.2" fill="#999" stroke="#333" stroke-width="0.92"/>
<path d="M426 608 L430 614 M427 613 L430 608" stroke="#111" stroke-width="1.03"/>
<rect x="457.5" y="602.2" width="7" height="15" fill="#fff" stroke="#111" stroke-width="1.49"/>
<path d="M458 602.2 V617.2" stroke="#111" stroke-width="2.53"/>
<path d="M464.5 600.2 H474 L475.5 601.7 V618.2 L474 619.7 H464.5 Z" fill="#fff" stroke="#111" stroke-width="1.61"/>
<path d="M465 602.5 H475 M465 617.4 H475" stroke="#111" stroke-width="1.72"/>
<path d="M465.5 615.0 H475" stroke="#999" stroke-width="1.38"/>
<path d="M475.5 601.7 L481 605.2 V615.2 L475.5 618.2" fill="#fff" stroke="#111" stroke-width="1.61"/>
<rect x="457.5" y="628.6" width="7" height="15" fill="#fff" stroke="#111" stroke-width="1.49"/>
<path d="M458 628.6 V643.6" stroke="#111" stroke-width="2.53"/>
<path d="M464.5 626.6 H474 L475.5 628.1 V644.6 L474 646.1 H464.5 Z" fill="#fff" stroke="#111" stroke-width="1.61"/>
<path d="M465 628.9 H475 M465 643.8 H475" stroke="#111" stroke-width="1.72"/>
<path d="M465.5 641.4 H475" stroke="#999" stroke-width="1.38"/>
<path d="M475.5 628.1 L481 631.6 V641.6 L475.5 644.6" fill="#fff" stroke="#111" stroke-width="1.61"/>
<path d="M399.1 471 V775" fill="none" stroke="#222" stroke-width="1.38" stroke-dasharray="30 3 2 3"/>
<g fill="none" stroke="#707070" stroke-width="1.55">
<path d="M303.7 476.6 H391 M303.7 769.3 H391"/>
<path d="M309.2 476.6 V769.3"/>
<path d="M355.7 500.5 V624.5 M480.6 500.5 V602"/>
<path d="M355.5 505.6 H532.5"/>
<path d="M411 527.8 H534.5 M411 717.5 H534.5"/>
<path d="M528.9 527.8 V717.5"/>
</g>
<g fill="#111">
<path d="M309.2 476.6 L307.2 487.5 L311.2 487.5 Z M309.2 769.3 L307.2 758.5 L311.2 758.5 Z"/>
<path d="M355.5 505.6 L366.5 503.6 L366.5 507.6 Z M480.6 505.6 L470 503.6 L470 507.6 Z"/>
<path d="M528.9 527.8 L526.9 538.5 L530.9 538.5 Z M528.9 717.5 L526.9 706.8 L530.9 706.8 Z"/>
</g>
<g font-family="Liberation Sans, sans-serif" font-size="14.3" fill="#222">
<text x="499.5" y="502.6" textLength="22" lengthAdjust="spacingAndGlyphs">174</text>
<text transform="translate(306.6 638.2) rotate(-90)" textLength="23" lengthAdjust="spacingAndGlyphs">407</text>
<text transform="translate(526.4 637.8) rotate(-90)" textLength="22.7" lengthAdjust="spacingAndGlyphs">266</text>
</g>
</g>
</svg>
</body></html>
